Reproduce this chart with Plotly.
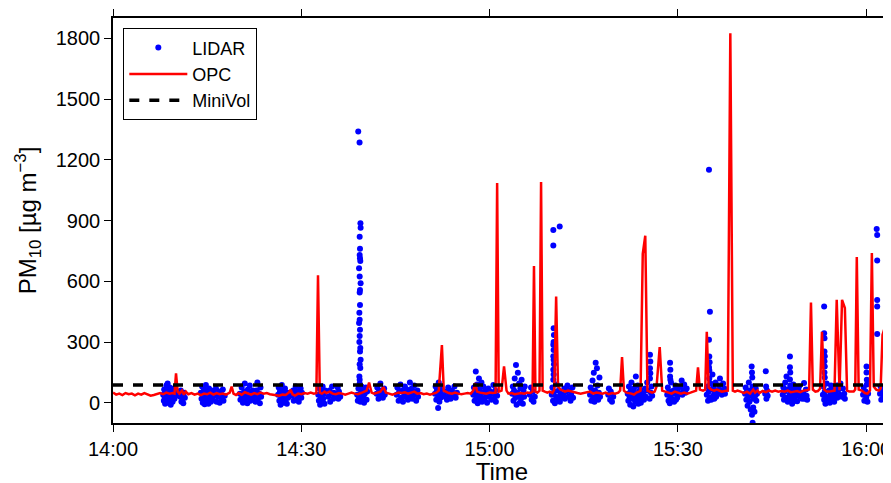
import pandas as pd
import plotly.graph_objects as go

# ---------------- data (minutes after 14:00, PM10 in ug/m3) ----------------
lidar_points = [
    (8.0,40),(8.1,10),(8.15,65),(8.25,25),(8.3,-5),(8.4,50),(8.5,85),(8.55,15),(8.65,35),(8.7,95),(8.8,0),(8.9,55),
    (9.0,20),(9.05,75),(9.15,40),(9.2,-10),(9.3,60),(9.4,30),(9.5,5),(9.6,45),(9.7,70),(9.8,20),(9.9,50),(10.0,35),
    (10.7,30),(10.8,60),(10.9,5),(11.0,45),(11.1,20),(11.2,-2),(11.3,50),(11.45,25),
    (14.0,50),(14.1,20),(14.2,80),(14.3,0),(14.4,40),(14.5,65),(14.6,-8),(14.7,30),(14.8,88),(14.9,15),(15.0,55),
    (15.1,35),(15.2,-5),(15.3,70),(15.4,25),(15.5,45),(15.6,5),(15.7,60),(15.8,30),(15.9,15),(16.0,50),
    (16.3,40),(16.4,70),(16.5,5),(16.7,30),(16.9,55),(17.0,0),(17.2,45),(17.3,20),(17.5,65),(17.6,10),(17.8,35),
    (20.2,45),(20.3,15),(20.5,75),(20.6,30),(20.7,0),(20.9,55),(21.0,95),(21.1,20),(21.3,40),(21.4,-2),(21.5,65),
    (21.7,30),(21.8,85),(21.9,10),(22.1,50),(22.2,25),(22.3,60),
    (22.6,35),(22.7,5),(22.9,60),(23.0,100),(23.1,20),(23.3,45),(23.4,-2),(23.5,75),(23.6,30),
    (26.3,40),(26.4,75),(26.5,10),(26.6,55),(26.7,-10),(26.8,30),(26.9,88),(27.0,20),(27.1,60),(27.2,0),(27.3,45),
    (27.4,70),(27.5,15),(27.6,35),(27.7,-5),(27.8,50),(27.9,25),
    (28.5,35),(28.7,60),(28.8,10),(29.0,45),(29.1,80),(29.3,20),(29.4,55),(29.6,5),(29.7,40),(29.9,70),(30.0,25),(30.1,50),
    (32.7,40),(32.8,10),(32.9,70),(33.0,-10),(33.1,30),(33.2,55),(33.3,0),(33.4,80),(33.5,20),(33.6,45),(33.7,-5),(33.8,60),
    (34.3,30),(34.5,60),(34.6,5),(34.8,45),(34.9,80),(35.1,20),(35.2,50),(35.4,35),
    (35.7,40),(35.8,75),(35.9,20),(36.0,55),(36.2,30),
    (38.9,40),(39.0,10),(39.1,70),(39.2,25),(39.3,95),(39.4,5),(39.5,50),(39.6,80),(39.7,20),(39.8,60),(39.9,35),
    (40.0,0),(40.1,45),(40.3,75),(40.4,15),(40.5,55),
    (39.07,1340),(39.28,1285),(39.42,886),(39.45,864),(39.3,820),(39.35,760),(39.3,730),(39.35,713),(39.4,700),
    (39.2,664),(39.3,623),(39.45,590),(39.35,557),(39.3,544),(39.35,483),(39.25,444),(39.3,410),(39.2,394),
    (39.35,360),(39.3,330),(39.25,300),(39.4,270),(39.35,253),(39.45,212),(39.3,190),(39.4,171),(39.25,130),(39.3,113),
    (42.0,45),(42.1,75),(42.3,20),(42.4,60),(42.6,95),(42.7,35),(42.9,55),(43.0,25),(43.2,70),(43.3,40),
    (45.2,40),(45.3,75),(45.5,10),(45.6,55),(45.8,90),(45.9,25),(46.1,60),(46.2,5),(46.4,45),(46.5,80),(46.7,30),
    (46.8,65),(47.0,15),(47.1,50),(47.3,100),(47.4,35),(47.6,70),(47.7,20),(47.9,55),(48.0,85),(48.2,40),(48.3,10),
    (48.5,60),(48.6,30),
    (51.3,45),(51.4,80),(51.5,15),(51.6,60),(51.8,-26),(51.8,35),(51.9,100),(52.0,5),(52.1,55),(52.2,25),(52.3,70),(52.4,40),
    (52.9,30),(53.1,55),(53.2,15),(53.4,75),(53.6,40),(53.8,20),(54.0,60),(54.2,35),(54.4,80),(54.6,25),(54.8,50),
    (57.4,40),(57.5,75),(57.6,10),(57.7,55),(57.8,154),(57.9,25),(58.0,90),(58.1,-2),(58.2,45),(58.3,120),(58.4,65),
    (58.5,15),(58.6,35),(58.7,100),(58.8,5),(58.9,50),(59.0,80),(59.2,20),(59.3,60),(59.5,40),(59.6,0),(59.8,70),
    (59.9,30),(60.1,55),(60.3,15),
    (60.5,45),(60.6,88),(60.7,20),(60.9,60),(61.0,5),(61.2,35),
    (63.6,45),(63.7,80),(63.8,10),(63.9,60),(64.0,120),(64.1,25),(64.2,187),(64.3,-10),(64.4,50),(64.5,148),(64.6,35),
    (64.7,95),(64.8,0),(64.9,70),(65.0,20),(65.1,113),(65.2,40),(65.3,-5),(65.4,60),(65.5,30),(65.6,80),
    (66.4,40),(66.6,75),(66.7,15),(66.9,55),(67.0,5),(67.2,30),
    (69.9,40),(70.0,75),(70.1,10),(70.3,55),(70.4,-2),(70.6,30),(70.7,90),(70.9,20),(71.0,60),(71.2,5),(71.3,45),(71.5,25),
    (70.2,368),(70.25,335),(70.2,300),(70.15,286),(70.2,260),(70.15,230),(70.2,212),(70.25,190),(70.15,163),
    (70.2,140),(70.15,113),(70.15,853),(70.15,776),(71.17,870),
    (71.7,40),(71.9,70),(72.0,20),(72.2,55),(72.4,85),(72.5,30),(72.7,60),(72.9,10),(73.0,45),(73.2,75),(73.3,25),
    (76.0,40),(76.1,75),(76.2,10),(76.3,55),(76.4,110),(76.5,25),(76.6,148),(76.7,5),(76.8,60),(76.9,197),(77.0,35),
    (77.1,170),(77.2,85),(77.3,15),(77.4,50),(77.5,125),(77.6,30),
    (78.9,40),(79.0,70),(79.2,15),(79.3,55),(79.5,5),(79.7,30),
    (82.0,45),(82.1,10),(82.2,80),(82.3,30),(82.4,-10),(82.5,60),(82.6,100),(82.7,20),(82.8,50),(82.9,-18),(83.0,70),
    (83.1,35),(83.2,5),(83.3,130),(83.4,45),(83.5,15),(83.6,85),(83.7,-5),(83.8,55),(83.9,25),(84.0,65),(84.1,0),
    (84.2,40),(84.3,20),
    (84.5,45),(84.6,15),(84.8,70),(84.9,30),(85.1,100),(85.2,60),(85.55,237),(85.6,204),(85.55,170),(85.6,146),
    (85.55,120),(85.5,20),(85.7,50),(85.8,80),(85.9,35),
    (88.3,40),(88.4,75),(88.5,10),(88.6,55),(88.7,-2),(88.75,197),(88.8,163),(88.75,130),(88.8,113),(88.8,30),
    (88.9,100),(89.0,20),(89.3,60),(89.4,5),(89.5,45),(89.6,85),(89.7,15),(89.8,50),(89.9,25),(90.0,65),
    (90.3,45),(90.5,80),(90.6,110),(90.7,40),(90.9,60),(91.0,90),(91.2,50),(91.4,70),
    (94.6,40),(94.7,80),(94.8,10),(94.9,55),(95.0,120),(95.1,25),(95.2,95),(95.3,15),(95.4,65),(95.5,140),(95.6,35),
    (95.7,75),(95.8,20),(95.9,50),(96.0,100),(96.1,30),(96.2,60),
    (94.95,1150),(95.1,450),(94.95,311),(95.0,228),(95.05,200),(94.95,175),(95.0,160),
    (96.4,50),(96.6,85),(96.7,120),(96.9,60),(97.0,40),(97.2,95),(97.4,70),(97.5,45),
    (100.7,45),(100.8,75),(100.9,15),(101.0,55),(101.1,-15),(101.2,30),(101.3,100),(101.4,5),(101.5,60),(101.6,-35),
    (101.7,40),(101.75,179),(101.8,150),(101.85,125),(101.8,-59),(101.9,80),(102.0,20),(102.0,-23),(102.1,55),
    (102.2,-45),(101.9,-99),(102.3,35),(102.4,70),(102.5,10),(102.6,45),
    (103.9,45),(104.0,155),(104.05,80),(104.1,20),(104.2,60),(104.3,35),
    (106.7,40),(106.8,75),(106.9,15),(107.0,55),(107.1,100),(107.2,25),(107.3,130),(107.4,65),(107.5,5),
    (107.85,228),(107.85,175),(107.9,150),(107.85,115),(107.8,40),(107.9,85),(108.0,20),(108.1,60),(108.2,-5),
    (108.3,45),(108.4,90),(108.5,25),(108.6,70),(108.7,10),(108.8,50),(108.9,35),(109.0,7),(109.2,60),(109.3,80),
    (109.5,30),(109.6,50),(109.8,20),
    (110.0,45),(110.1,97),(110.2,20),(110.4,65),(110.5,35),(110.6,15),
    (113.1,40),(113.2,80),(113.3,15),(113.4,55),(113.5,-5),(113.6,30),(113.7,95),(113.3,475),(113.3,343),(113.35,319),
    (113.35,253),(113.4,230),(113.35,205),(113.4,179),(113.35,150),(113.4,125),(114.0,20),(114.1,60),(114.2,0),
    (114.3,45),(114.4,85),(114.5,10),(114.6,50),(114.7,30),(114.8,70),(114.9,5),(115.0,40),
    (115.1,55),(115.3,85),(115.4,25),(115.6,65),(115.8,40),(115.9,95),(116.1,30),(116.3,70),(116.5,45),(116.6,20),
    (119.5,40),(119.6,75),(119.7,10),(120.05,179),(120.05,150),(120.1,113),(119.9,55),(120.0,25),(120.1,90),
    (120.2,5),(120.3,45),
    (121.67,858),(121.75,828),(121.75,702),(121.75,508),(121.75,475),(121.75,339),
    (122.2,45),(122.3,80),(122.4,15),(122.5,60),(122.7,30),(122.9,70),(123.0,40),
]

opc_minutes = [
    0, 0.5, 1.0, 1.5, 2.0, 2.5, 3.0, 3.5, 4.0, 4.5, 5.0, 5.5, 6.0, 6.5, 7.0, 7.5, 8.0, 8.5, 9.0, 9.5, 9.8,
    10.04, 10.3, 10.6, 11.0, 11.3, 11.6, 12.0, 12.5, 13.0, 13.5, 14.0, 14.5, 15.0, 15.5, 16.0, 16.5, 17.0, 17.5,
    18.0, 18.6, 18.9, 19.2, 19.6, 20.0, 20.5, 21.0, 21.5, 22.0, 22.5, 23.0, 23.5, 24.0, 24.5, 25.0, 25.5, 26.0,
    26.5, 27.0, 27.5, 28.0, 28.3, 28.6, 29.0, 29.5, 30.0, 30.5, 31.0, 31.5, 32.0, 32.4, 32.66, 32.95, 33.3, 33.7,
    34.0, 34.5, 35.0, 35.5, 36.0, 36.5, 37.0, 37.5, 38.0, 38.5, 39.0, 39.5, 40.0, 40.4, 40.8, 41.2, 41.6, 42.0,
    42.6, 43.07, 43.5, 44.0, 44.5, 45.0, 45.5, 46.0, 46.5, 47.0, 47.5, 48.0, 48.5, 49.0, 49.5, 50.0, 50.5, 51.0,
    51.5, 51.9, 52.15, 52.4, 52.7, 53.0, 53.5, 54.0, 54.5, 55.0, 55.5, 56.0, 56.5, 57.0, 57.4, 57.7, 58.0, 58.5,
    59.0, 59.5, 60.0, 60.5, 60.95, 61.2, 61.45, 61.9, 62.3, 62.7, 63.0, 63.5, 64.0, 64.5, 65.0, 65.5, 66.0, 66.5,
    66.85, 67.07, 67.3, 67.6, 67.95, 68.2, 68.45, 68.8, 69.2, 69.6, 70.0, 70.3, 70.6, 70.9, 71.3, 71.7, 72.0,
    72.5, 73.0, 73.5, 74.0, 74.5, 75.0, 75.5, 76.0, 76.5, 77.0, 77.5, 78.0, 78.5, 79.0, 79.5, 80.0, 80.5, 80.8,
    81.1, 81.4, 81.8, 82.2, 82.6, 83.0, 83.4, 83.8, 84.05, 84.4, 84.8, 85.15, 85.5, 85.9, 86.3, 86.6, 87.1, 87.5,
    88.0, 88.5, 89.0, 89.5, 90.0, 90.5, 91.0, 91.5, 92.0, 92.5, 92.9, 93.2, 93.5, 94.0, 94.35, 94.6, 94.9, 95.3,
    95.8, 96.2, 96.6, 97.0, 97.5, 97.95, 98.35, 98.75, 99.1, 99.5, 100.0, 100.5, 101.0, 101.5, 102.0, 102.3, 102.7,
    103.0, 103.5, 104.0, 104.5, 105.0, 105.5, 106.0, 106.5, 107.0, 107.5, 108.0, 108.5, 109.0, 109.5, 110.0,
    110.5, 110.9, 111.2, 111.5, 111.9, 112.3, 112.65, 112.95, 113.3, 113.7, 114.1, 114.5, 114.95, 115.3, 115.75,
    116.15, 116.6, 116.95, 117.3, 117.7, 118.0, 118.25, 118.5, 118.8, 119.3, 119.8, 120.2, 120.6, 120.9, 121.2,
    121.6, 122.0, 122.3, 122.6, 123.0, 123.4, 124.0,
]
opc_pm10 = [
    50, 40, 45, 38, 48, 42, 45, 37, 45, 40, 48, 42, 35, 38, 44, 48, 42, 50, 45, 48, 45,
    145, 55, 45, 60, 40, 55, 42, 48, 40, 45, 38, 45, 42, 50, 40, 48, 42, 45,
    40, 50, 80, 45, 38, 48, 40, 52, 45, 40, 48, 42, 50, 45, 48, 42, 40, 38,
    35, 40, 38, 50, 64, 42, 35, 45, 42, 48, 45, 50, 45, 48, 630, 50, 45, 55,
    48, 55, 45, 42, 48, 45, 40, 45, 50, 45, 42, 48, 55, 60, 100, 50, 45, 48,
    55, 77, 50, 45, 40, 45, 50, 48, 52, 45, 50, 55, 45, 48, 42, 45, 40, 45,
    50, 60, 200, 285, 60, 55, 48, 45, 50, 45, 42, 45, 48, 45, 60, 97, 55, 50,
    48, 45, 50, 48, 50, 1085, 55, 60, 180, 60, 45, 48, 42, 45, 48, 45, 50, 48,
    55, 675, 55, 50, 60, 1090, 60, 55, 50, 55, 48, 65, 525, 80, 65, 60, 55,
    60, 55, 50, 48, 45, 48, 50, 55, 45, 50, 48, 45, 50, 42, 48, 45, 50, 60,
    225, 60, 50, 48, 45, 40, 50, 55, 60, 735, 825, 60, 55, 50, 55, 80, 275, 60,
    55, 48, 45, 55, 48, 45, 50, 45, 50, 55, 60, 175, 65, 60, 65, 350, 75, 65,
    60, 65, 60, 55, 58, 60, 1825, 60, 55, 60, 55, 48, 55, 45, 65, 50, 60,
    48, 58, 52, 60, 55, 60, 55, 58, 55, 60, 52, 55, 58, 52, 60,
    62, 65, 495, 65, 55, 58, 70, 350, 65, 55, 55, 58, 60, 508, 62,
    508, 468, 60, 55, 55, 55, 65, 720, 65, 60, 48, 45, 60, 740, 80,
    65, 60, 70, 335, 376, 250, 150,
]

minivol_pm10 = 88
minivol_span = ["14:00", "16:05"]

x_ticks = ["14:00", "14:30", "15:00", "15:30", "16:00"]
y_ticks = [0, 300, 600, 900, 1200, 1500, 1800]

# ---------------- build ----------------
day = "2024-01-01 "
base = pd.Timestamp(day + "14:00")
lidar_x = [base + pd.Timedelta(minutes=m) for m, _ in lidar_points]
lidar_y = [v for _, v in lidar_points]
opc_x = [base + pd.Timedelta(minutes=m) for m in opc_minutes]
mv_x = [pd.Timestamp(day + t) for t in minivol_span]

FONT = "Liberation Sans, Arial, Helvetica, sans-serif"

fig = go.Figure()
fig.add_trace(go.Scatter(
    x=lidar_x, y=lidar_y, mode="markers", name="LIDAR",
    marker=dict(color="#0000ff", size=6, line=dict(width=0)),
))
fig.add_trace(go.Scatter(
    x=opc_x, y=opc_pm10, mode="lines", name="OPC",
    line=dict(color="#ff0000", width=2.5),
))
fig.add_trace(go.Scatter(
    x=mv_x, y=[minivol_pm10] * len(mv_x), mode="lines", name="MiniVol",
    line=dict(color="black", width=3.5, dash="10px,10px"),
))

# the page body adds an 8 px offset at the top-left
x_end = base + pd.Timedelta(minutes=123.95)
fig.update_layout(
    width=883, height=477,
    margin=dict(l=105, r=0, t=10, b=62),
    paper_bgcolor="white", plot_bgcolor="white",
    font=dict(family=FONT, size=20, color="black"),
    showlegend=True,
    legend=dict(
        x=0.013, y=0.975, xanchor="left", yanchor="top",
        bgcolor="white", bordercolor="black", borderwidth=1.2,
        font=dict(size=18), itemwidth=58, tracegroupgap=0,
    ),
    xaxis=dict(
        range=[base, x_end], automargin=False, ticklabeloverflow="allow",
        tickvals=[pd.Timestamp(day + t) for t in x_ticks], ticktext=x_ticks,
        showgrid=False, zeroline=False,
        showline=True, linecolor="black", linewidth=1.6, mirror="ticks",
        ticks="outside", ticklen=7, tickwidth=1.4, tickcolor="black",
        title=dict(text="Time", standoff=18),
    ),
    yaxis=dict(
        range=[-100, 1900], tickvals=y_ticks, automargin=False,
        showgrid=False, zeroline=False,
        showline=True, linecolor="black", linewidth=1.6, mirror="ticks",
        ticks="outside", ticklen=7, tickwidth=1.4, tickcolor="black",
        title=dict(text="PM<sub>10</sub> [µg m<sup>−3</sup>]", standoff=12),
    ),
)

fig.write_html("out.html")
